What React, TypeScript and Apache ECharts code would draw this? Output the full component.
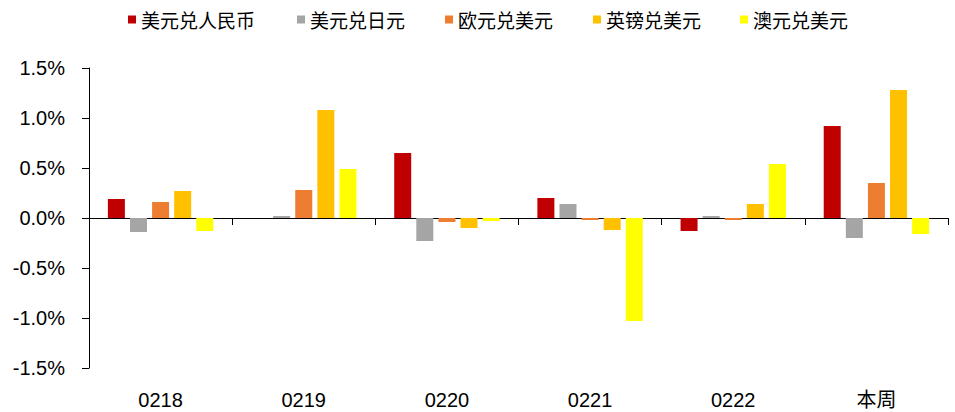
import React, { useEffect, useRef } from "react";
import * as echarts from "echarts";

const categories = ["0218", "0219", "0220", "0221", "0222", "本周"];
const seriesNames = ["美元兑人民币", "美元兑日元", "欧元兑美元", "英镑兑美元", "澳元兑美元"];
const usdCny = [0.19, 0.0, 0.65, 0.2, -0.13, 0.92];
const usdJpy = [-0.14, 0.02, -0.23, 0.14, 0.02, -0.2];
const eurUsd = [0.16, 0.28, -0.04, -0.02, -0.02, 0.35];
const gbpUsd = [0.27, 1.08, -0.1, -0.12, 0.14, 1.28];
const audUsd = [-0.13, 0.49, -0.03, -1.03, 0.54, -0.16];
const colors = ["#C00000", "#A5A5A5", "#ED7D31", "#FFC000", "#FFFF00"];
const yTicks = [-1.5, 1.5, 0.5];

export default function App() {
  const ref = useRef<HTMLDivElement>(null);
  useEffect(() => {
    if (!ref.current) return;
    const chart = echarts.init(ref.current, null, { renderer: "svg" });
    const values = [usdCny, usdJpy, eurUsd, gbpUsd, audUsd];
    const legendLeft = [123, 292, 440, 588, 735];
    chart.setOption({
      animation: false,
      color: colors,
      legend: seriesNames.map((n, i) => ({
        data: [n],
        left: legendLeft[i],
        top: 5,
        icon: "rect",
        itemWidth: 8,
        itemHeight: 8,
        textStyle: { fontFamily: "Noto Sans CJK SC", fontSize: 19, color: "#000" },
      })),
      grid: { left: 89, right: 7, top: 68, bottom: 44 },
      xAxis: [
        {
          type: "category",
          data: categories,
          position: "bottom",
          axisLine: { show: true, onZero: true, lineStyle: { color: "#000", width: 1 } },
          axisTick: { show: true, interval: 0, length: 7, lineStyle: { color: "#000" } },
          axisLabel: { show: false },
          splitLine: { show: false },
        },
        {
          type: "category",
          data: categories,
          position: "bottom",
          axisLine: { show: false, onZero: false },
          axisTick: { show: false },
          axisLabel: {
            show: true,
            interval: 0,
            margin: 22,
            fontFamily: "Liberation Sans, Arial, Noto Sans CJK SC",
            fontSize: 20,
            color: "#000",
          },
          splitLine: { show: false },
        },
      ],
      yAxis: {
        type: "value",
        min: yTicks[0],
        max: yTicks[1],
        interval: yTicks[2],
        axisLine: { show: true, lineStyle: { color: "#000", width: 1 } },
        axisTick: { show: true, length: 7, lineStyle: { color: "#000" } },
        splitLine: { show: false },
        axisLabel: {
          margin: 24,
          fontFamily: "Liberation Sans, Arial",
          fontSize: 20,
          color: "#000",
          formatter: (v: number) => v.toFixed(1) + "%",
        },
      },
      series: seriesNames.map((n, i) => ({
        name: n,
        type: "bar",
        xAxisIndex: 0,
        data: values[i],
        barWidth: 17,
        barGap: "30%",
        itemStyle: { color: colors[i] },
      })),
    });
    return () => chart.dispose();
  }, []);
  return <div ref={ref} style={{ width: 955, height: 412, position: "absolute", left: 0, top: 0 }} />;
}
